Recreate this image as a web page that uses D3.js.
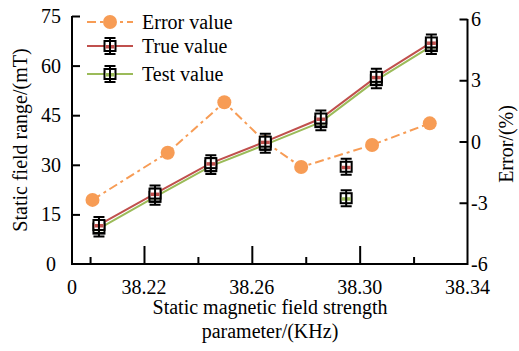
<!DOCTYPE html>
<html>
<head>
<meta charset="utf-8">
<script src="https://cdn.jsdelivr.net/npm/d3@7/dist/d3.min.js"></script>
<style>
  html, body { margin: 0; padding: 0; background: #fff; }
  svg { display: block; }
  text { font-family: "Liberation Serif", "Times New Roman", serif; fill: #000; }
</style>
</head>
<body>
<svg id="chart" width="519" height="351"></svg>
<script>
// ---- data ----
const xTickValues = [38.1933, 38.22, 38.26, 38.30, 38.34];
const xTickLabels = ["0", "38.22", "38.26", "38.30", "38.34"];
const xMinorTicks = [38.20, 38.24, 38.28, 38.32];
const yLeftTicks = [0, 15, 30, 45, 60, 75];
const yRightTicks = [-6, -3, 0, 3, 6];

const measX   = [38.2033, 38.2241, 38.2448, 38.2650, 38.2856, 38.3062, 38.3266];
const trueVal = [11.8, 21.3, 30.5, 37.0, 44.0, 56.6, 67.0];
const testVal = [10.7, 20.3, 29.6, 36.1, 42.9, 55.6, 65.9];

const errX    = [38.2009, 38.2288, 38.2498, 38.2650, 38.2783, 38.3046, 38.3260];
const errVal  = [-2.86, -0.55, 1.92, -0.02, -1.25, -0.17, 0.89];

// separate markers (no line)
const extraX    = [38.2950];
const extraTrue = [29.4];
const extraTest = [19.9];

const seriesNames = ["Error value", "True value", "Test value"];

// ---- layout ----
const svg = d3.select("#chart");
const x = d3.scaleLinear().domain([38.1933, 38.34]).range([72, 467.5]);
const yL = d3.scaleLinear().domain([0, 75]).range([264, 16]);
const yR = d3.scaleLinear().domain([-6, 6]).range([264, 19]);

const cRed = "#C0504D", cGreen = "#9BBB59", cOrange = "#F79C55";
const fs = 20;

// ---- axes ----
const gx = svg.append("g").attr("transform", "translate(0,264)")
  .call(d3.axisBottom(x).tickValues(xTickValues.slice(1, 4)).tickSize(-18).tickFormat(""));
gx.select(".domain").remove();
gx.selectAll("line").attr("stroke", "#000").attr("stroke-width", 2);
const gxm = svg.append("g").attr("transform", "translate(0,264)")
  .call(d3.axisBottom(x).tickValues(xMinorTicks).tickSize(-7).tickFormat(""));
gxm.select(".domain").remove();
gxm.selectAll("line").attr("stroke", "#000").attr("stroke-width", 2);
svg.append("g").selectAll("text").data(xTickValues).join("text")
  .attr("x", d => x(d)).attr("y", 294).attr("text-anchor", "middle")
  .attr("font-size", fs).text((d, i) => xTickLabels[i]);

// left axis
const gl = svg.append("g").attr("transform", "translate(72,0)")
  .call(d3.axisRight(yL).tickValues(yLeftTicks.slice(1)).tickSize(8).tickFormat(""));
gl.select(".domain").remove();
gl.selectAll("line").attr("stroke", "#000").attr("stroke-width", 2);
svg.append("g").selectAll("text").data(yLeftTicks).join("text")
  .attr("x", 51).attr("y", d => yL(d) + 7).attr("text-anchor", "middle")
  .attr("font-size", fs).text(d => d);

// right axis
const gr = svg.append("g").attr("transform", "translate(467.5,0)")
  .call(d3.axisLeft(yR).tickValues(yRightTicks.slice(1)).tickSize(8).tickFormat(""));
gr.select(".domain").remove();
gr.selectAll("line").attr("stroke", "#000").attr("stroke-width", 2);
svg.append("g").selectAll("text").data(yRightTicks).join("text")
  .attr("x", 471).attr("y", d => yR(d) + 7).attr("text-anchor", "start")
  .attr("font-size", fs).text(d => d);

// axis lines
svg.append("path")
  .attr("d", `M${x(38.1933)},${yL(75)}V${yL(0)}H${x(38.34)}V${yR(6)}`)
  .attr("fill", "none").attr("stroke", "#000").attr("stroke-width", 2);

// axis titles
svg.append("text").attr("x", 270).attr("y", 314).attr("text-anchor", "middle")
  .attr("font-size", fs).text("Static magnetic field strength");
svg.append("text").attr("x", 270).attr("y", 338).attr("text-anchor", "middle")
  .attr("font-size", fs).text("parameter/(KHz)");
svg.append("text").attr("transform", "translate(27,140) rotate(-90)")
  .attr("text-anchor", "middle").attr("font-size", fs).text("Static field range/(mT)");
svg.append("text").attr("transform", "translate(513,144) rotate(-90)")
  .attr("text-anchor", "middle").attr("font-size", fs).text("Error/(%)");

// ---- marks ----
const errData = errX.map((d, i) => [d, errVal[i]]);
svg.append("path").datum(errData)
  .attr("d", d3.line().x(d => x(d[0])).y(d => yR(d[1])))
  .attr("fill", "none").attr("stroke", cOrange).attr("stroke-width", 2)
  .attr("stroke-dasharray", "9,4,3,4");
svg.append("g").selectAll("circle").data(errData).join("circle")
  .attr("cx", d => x(d[0])).attr("cy", d => yR(d[1])).attr("r", 7)
  .attr("fill", cOrange);

const trueData = measX.map((d, i) => [d, trueVal[i]]);
const testData = measX.map((d, i) => [d, testVal[i]]);
const line = d3.line().x(d => x(d[0])).y(d => yL(d[1]));
svg.append("path").datum(trueData).attr("d", line)
  .attr("fill", "none").attr("stroke", cRed).attr("stroke-width", 2);
svg.append("path").datum(testData).attr("d", line)
  .attr("fill", "none").attr("stroke", cGreen).attr("stroke-width", 2);

function marker(g, cx, cy, color) {
  const m = g.append("g").attr("transform", `translate(${cx},${cy})`);
  m.append("rect").attr("x", -5.5).attr("y", -5).attr("width", 11).attr("height", 10)
    .attr("fill", "#fff").attr("stroke", "#000").attr("stroke-width", 2);
  m.append("rect").attr("x", -4.5).attr("y", -1).attr("width", 9).attr("height", 3.5)
    .attr("fill", color);
  m.append("path").attr("d", "M0,-8V8M-5.5,-8H5.5M-5.5,8H5.5")
    .attr("stroke", "#000").attr("stroke-width", 2).attr("fill", "none");
}
const mg = svg.append("g");
testData.forEach(d => marker(mg, x(d[0]), yL(d[1]), cGreen));
trueData.forEach(d => marker(mg, x(d[0]), yL(d[1]), cRed));
extraX.forEach((d, i) => {
  marker(mg, x(d), yL(extraTrue[i]), cRed);
  marker(mg, x(d), yL(extraTest[i]), cGreen);
});

// ---- legend ----
const lg = svg.append("g");
const legY = [22, 46, 74];
lg.append("line").attr("x1", 87).attr("x2", 133).attr("y1", legY[0]).attr("y2", legY[0])
  .attr("stroke", cOrange).attr("stroke-width", 2).attr("stroke-dasharray", "9,4,3,4");
lg.append("circle").attr("cx", 110).attr("cy", legY[0]).attr("r", 7).attr("fill", cOrange);
lg.append("line").attr("x1", 87).attr("x2", 133).attr("y1", legY[1]).attr("y2", legY[1])
  .attr("stroke", cRed).attr("stroke-width", 2);
marker(lg, 110, legY[1], cRed);
lg.append("line").attr("x1", 87).attr("x2", 133).attr("y1", legY[2]).attr("y2", legY[2])
  .attr("stroke", cGreen).attr("stroke-width", 2);
marker(lg, 110, legY[2], cGreen);
lg.selectAll("text").data(seriesNames).join("text")
  .attr("x", 142).attr("y", (d, i) => legY[i] + 7).attr("font-size", fs).text(d => d);
</script>
</body>
</html>
